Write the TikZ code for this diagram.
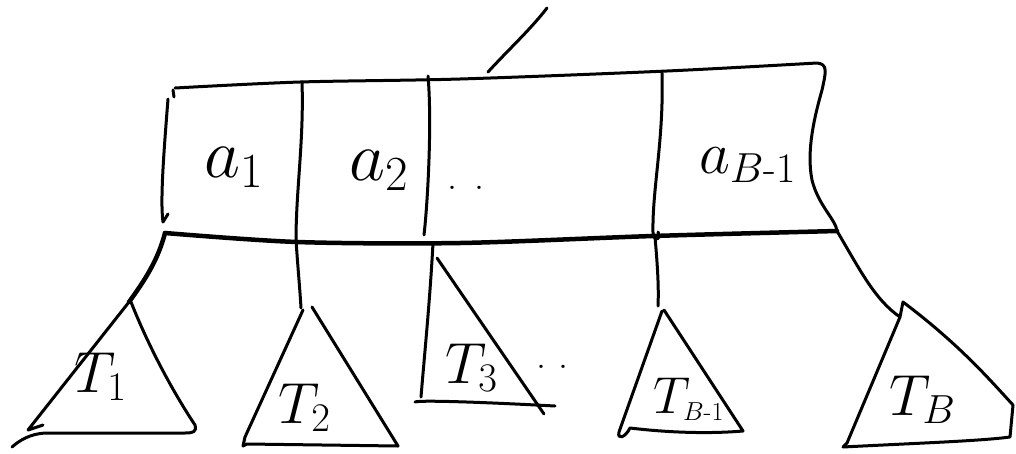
\documentclass[tikz,border=0pt]{standalone}
\usepackage{fix-cm}
\usepackage{amsmath}
\begin{document}
\begin{tikzpicture}[x=1pt,y=-1pt,
  ink/.style={line width=3pt,line cap=round,line join=round,black},
  inkthick/.style={line width=4.5pt,line cap=round,line join=round,black},
  lbl/.style={inner sep=0pt,anchor=base west,font=\fontsize{58}{62}\selectfont},
  albl/.style={inner sep=0pt,anchor=base west,font=\fontsize{70}{76}\selectfont},
  dotlbl/.style={inner sep=0pt,font=\fontsize{40}{44}\selectfont}]
\useasboundingbox (0,0) rectangle (1016,453);
% parent pointer
\coordinate (p1) at (488,72);
\coordinate (p2) at (547,8);
\draw[ink] (p1) .. controls (510,48) and (530,30) .. (p2);
% box corners
\coordinate (tl) at (175,88);
\coordinate (tr) at (817,63);
\coordinate (bl) at (165,233);
\coordinate (br) at (837,231);
\draw[ink] plot[smooth,tension=0.5] coordinates {(tl) (300,82) (460,79) (667,71) (tr)}
  .. controls (828,64) and (826,72) .. (822,90)
  .. controls (815,115) and (806,150) .. (812,180)
  .. controls (818,205) and (836,220) .. (br);
\draw[ink] (173,90) -- (174,97) (168,99) .. controls (164,150) and (160,200) .. (163,222) -- (168,214);
\draw[inkthick] plot[smooth,tension=0.5] coordinates {(bl) (297,242) (460,243) (653,236) (br)};
% dividers
\coordinate (d1t) at (302,82);
\coordinate (d1b) at (296,240);
\coordinate (d2t) at (428,76);
\coordinate (d2b) at (433,243);
\coordinate (d3t) at (662,73);
\coordinate (d3b) at (655,237);
\draw[ink] (d1t) .. controls (304,140) and (296,190) .. (d1b);
\draw[ink] (d2t) .. controls (432,120) and (428,200) .. (424,235);
\draw[ink] (d3t) .. controls (664,140) and (652,190) .. (653,233) .. controls (654,242) and (662,240) .. (658,232);
% key labels
\node[albl] (a1) at (204,177) {$a_1$};
\node[albl] (a2) at (349,180) {$a_2$};
\node[dotlbl] (dots1) at (466,188) {.\hspace{17pt}.};
\node[albl,font=\fontsize{60}{66}\selectfont] (aB) at (699,173) {$a_{B\text{-}1}$};
% child pointers
\coordinate (c1) at (129,302);
\coordinate (c2) at (301,308);
\coordinate (c3) at (421,397);
\coordinate (c4) at (658,306);
\coordinate (c5) at (900,317);
\draw[inkthick] (bl) .. controls (158,260) and (145,280) .. (c1);
\draw[ink] (d1b) .. controls (298,270) and (300,290) .. (c2);
\draw[ink] (d2b) .. controls (430,300) and (424,360) .. (c3);
\draw[ink] (d3b) .. controls (657,260) and (659,285) .. (c4);
\draw[ink] (br) .. controls (860,270) and (875,300) .. (c5);
% subtrees
\draw[ink] (c1) -- (28,430) -- (43,425);
\draw[ink] (131,302) .. controls (150,350) and (175,395) .. (195,425) .. controls (197,432) and (193,433) .. (185,433) -- (45,433) .. controls (30,434) and (20,440) .. (12,447);
\draw[ink] (303,310) -- (245,437) -- (243,446) -- (247,444) -- (398,446) -- (312,307);
\draw[ink] (415,402) .. controls (420,400) and (480,402) .. (555,406);
\draw[ink] (437,258) -- (544,414);
\draw[ink] (662,311) -- (619,432) .. controls (617,440) and (625,438) .. (630,428) .. controls (680,434) and (720,433) .. (743,431) -- (664,310);
\draw[ink] (c5) -- (847,443) -- (843,447) .. controls (920,443) and (980,441) .. (1010,437) -- (1013,405) .. controls (990,380) and (960,345) .. (903,302) -- (c5);
% subtree labels
\node[lbl] (T1) at (74,392) {$T_1$};
\node[lbl] (T2) at (278,423) {$T_2$};
\node[lbl] (T3) at (445,383) {$T_3$};
\node[dotlbl] (dots2) at (552,367) {.\hspace{12pt}.};
\node[lbl,font=\fontsize{52}{56}\selectfont] (T4) at (653,413) {$T_{\scriptscriptstyle B\text{-}1}$};
\node[lbl] (T5) at (889,415) {$T_B$};
\end{tikzpicture}
\end{document}
